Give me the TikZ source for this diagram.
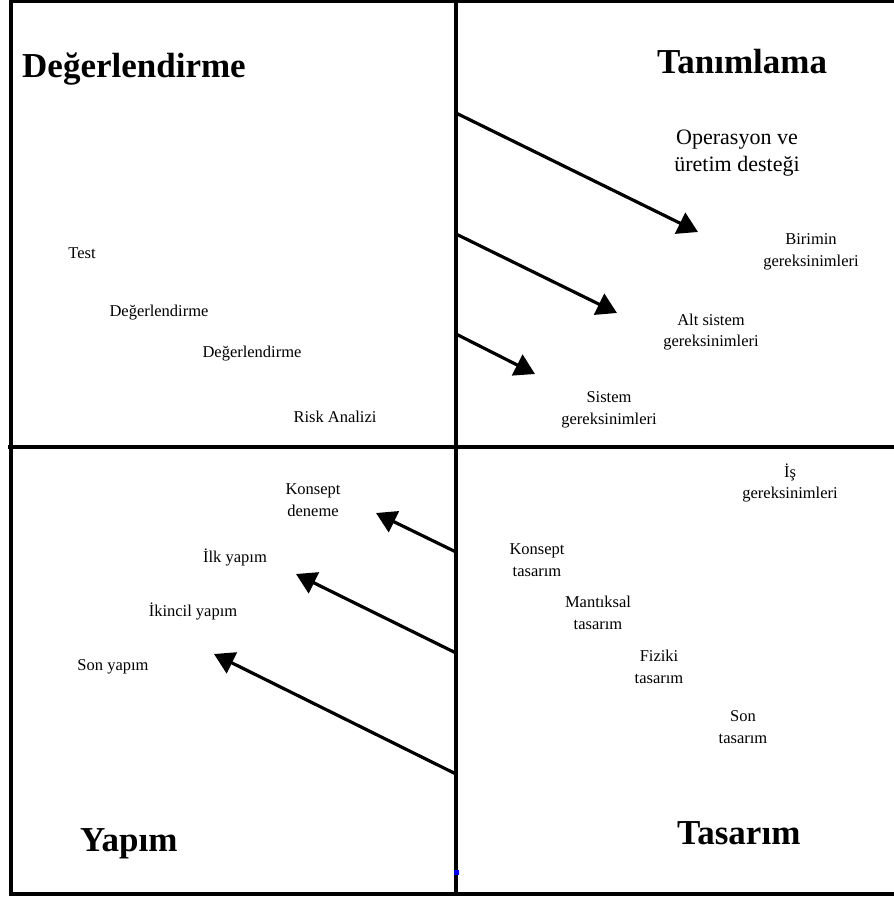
\documentclass[tikz,border=0pt]{standalone}
\usepackage{fontspec}
\setmainfont{Liberation Serif}
\usetikzlibrary{arrows.meta}
\begin{document}
\begin{tikzpicture}[x=1pt,y=-1pt,
  frame/.style={line width=3.2pt},
  arr/.style={line width=3.2pt,-{Triangle[length=20pt,width=23pt]}},
  title/.style={inner sep=0pt,anchor=base west,font=\fontsize{35}{38}\selectfont\bfseries},
  item/.style={inner sep=0pt,align=center,font=\fontsize{16.5}{21.5}\selectfont},
  big/.style={inner sep=0pt,align=center,font=\fontsize{22}{27}\selectfont}]
\useasboundingbox (0,0) rectangle (894,900);
\fill[white] (0,0) rectangle (894,900);

% quadrant frame
\draw[frame] (11,1.5) -- (894,1.5);
\draw[frame] (11,0) -- (11,895.5);
\draw[frame] (9.5,894) -- (894,894);
\draw[frame] (8,447) -- (894,447);
\draw[frame] (456,0) -- (456,894);
\fill[blue] (454,869.5) rectangle (458.5,874.5);

% quadrant titles
\node[title] (tDeg) at (22,77) {Değerlendirme};
\node[title] (tTan) at (657,73) {Tanımlama};
\node[title] (tYap) at (80,851) {Yapım};
\node[title] (tTas) at (677,844) {Tasarım};

% evaluation quadrant
\node[item] (test) at (82,253) {Test};
\node[item] (deg1) at (159,313) {Değerlendirme};
\node[item] (deg2) at (252,354) {Değerlendirme};
\node[item] (risk) at (335,417) {Risk Analizi};

% definition quadrant
\node[big] (ops) at (737,153) {Operasyon ve\\üretim desteği};
\node[item] (bir) at (811,252) {Birimin\\gereksinimleri};
\node[item] (alt) at (711,332) {Alt sistem\\gereksinimleri};
\node[item] (sis) at (609,410) {Sistem\\gereksinimleri};

% design quadrant
\node[item] (is) at (790,483) {İş\\gereksinimleri};
\node[item] (kt) at (537,560) {Konsept\\tasarım};
\node[item] (mt) at (598,613) {Mantıksal\\tasarım};
\node[item] (ft) at (659,667) {Fiziki\\tasarım};
\node[item] (st) at (743,727) {Son\\tasarım};

% construction quadrant
\node[item] (kd) at (313,500) {Konsept\\deneme};
\node[item] (iy) at (235,557) {İlk yapım};
\node[item] (iky) at (193,611) {İkincil yapım};
\node[item] (sy) at (113,667) {Son yapım};

% arrows leaving the vertical axis
\coordinate (a1) at (456,113);
\coordinate (a2) at (456,234);
\coordinate (a3) at (456,334);
\coordinate (b1) at (456,552);
\coordinate (b2) at (456,653);
\coordinate (b3) at (456,774);
\coordinate (e1) at (698,232);
\coordinate (e2) at (617,313);
\coordinate (e3) at (535,374);
\coordinate (f1) at (376,513);
\coordinate (f2) at (296,574);
\coordinate (f3) at (214,654);
\draw[arr] (a1) -- (e1);
\draw[arr] (a2) -- (e2);
\draw[arr] (a3) -- (e3);
\draw[arr] (b1) -- (f1);
\draw[arr] (b2) -- (f2);
\draw[arr] (b3) -- (f3);
\end{tikzpicture}
\end{document}
